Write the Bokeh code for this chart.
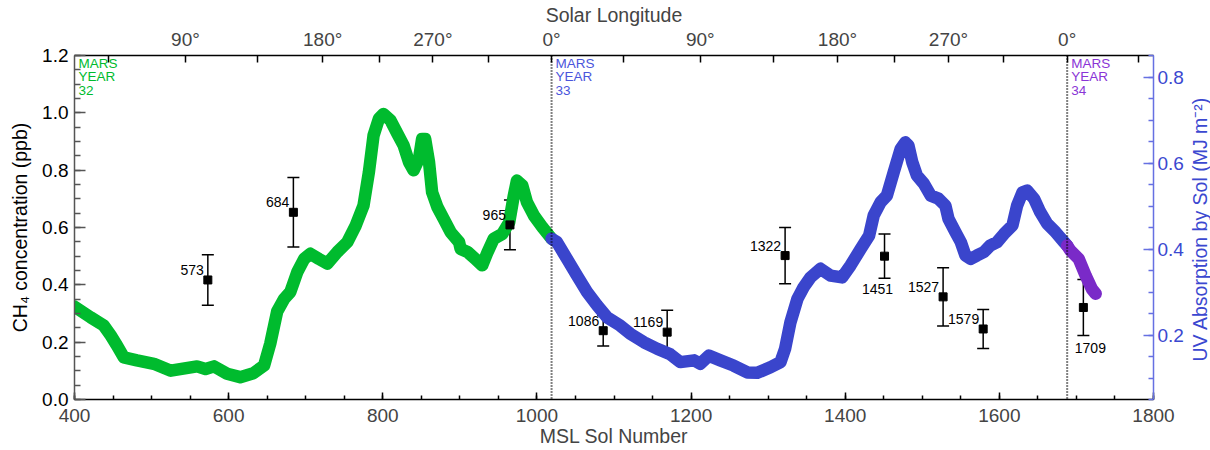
import math

from bokeh.core.properties import value
from bokeh.embed import file_html
from bokeh.layouts import row
from bokeh.models import (ColumnDataSource, FixedTicker, Label, LinearAxis,
                          PrintfTickFormatter, Range1d, SingleIntervalTicker,
                          Span, TeeHead, Whisker)
from bokeh.plotting import figure
from bokeh.resources import INLINE

# ---------------------------------------------------------------------------
# Data
# ---------------------------------------------------------------------------
# UV absorption by sol (MJ m^-2), Mars Year 32
my32_sol = [400, 421, 438, 447, 455, 464, 481, 503, 525, 541, 559, 570, 581,
            598, 615, 632, 646, 654, 663, 672, 680, 689, 698, 706, 717, 728,
            741, 754, 765, 775, 782, 788, 795, 801, 810, 819, 827, 834, 840,
            847, 851, 855, 860, 864, 871, 879, 888, 899, 901, 910, 920, 929,
            936, 944, 955, 964, 970, 974, 981, 987, 996, 1007, 1019]
my32_uv = [0.266, 0.241, 0.222, 0.199, 0.176, 0.148, 0.141, 0.133, 0.117,
           0.122, 0.127, 0.121, 0.127, 0.110, 0.102, 0.111, 0.129, 0.180,
           0.255, 0.284, 0.300, 0.346, 0.377, 0.389, 0.377, 0.366, 0.393,
           0.416, 0.455, 0.501, 0.579, 0.664, 0.703, 0.714, 0.699, 0.668,
           0.641, 0.602, 0.583, 0.610, 0.656, 0.656, 0.602, 0.532, 0.497,
           0.470, 0.439, 0.416, 0.400, 0.393, 0.377, 0.362, 0.393, 0.424,
           0.435, 0.462, 0.524, 0.559, 0.548, 0.509, 0.478, 0.451, 0.424]

# Mars Year 33
my33_sol = [1019, 1026, 1039, 1052, 1065, 1078, 1091, 1108, 1121, 1139, 1156,
            1173, 1186, 1204, 1212, 1223, 1238, 1255, 1273, 1286, 1303, 1316,
            1322, 1329, 1338, 1346, 1355, 1368, 1381, 1396, 1407, 1420, 1431,
            1437, 1446, 1454, 1463, 1472, 1478, 1482, 1487, 1493, 1502, 1511,
            1521, 1530, 1534, 1543, 1550, 1556, 1563, 1571, 1580, 1588, 1597,
            1606, 1617, 1623, 1630, 1636, 1645, 1653, 1662, 1673, 1684, 1688]
my33_uv = [0.424, 0.416, 0.377, 0.338, 0.300, 0.269, 0.241, 0.222, 0.203,
           0.183, 0.168, 0.155, 0.137, 0.141, 0.133, 0.152, 0.141, 0.129,
           0.113, 0.112, 0.125, 0.137, 0.168, 0.230, 0.284, 0.311, 0.334,
           0.354, 0.338, 0.334, 0.362, 0.400, 0.431, 0.478, 0.509, 0.524,
           0.579, 0.633, 0.648, 0.641, 0.602, 0.571, 0.552, 0.524, 0.517,
           0.501, 0.470, 0.439, 0.416, 0.385, 0.377, 0.385, 0.393, 0.408,
           0.416, 0.435, 0.455, 0.501, 0.532, 0.536, 0.517, 0.486, 0.459,
           0.439, 0.416, 0.408]

# Mars Year 34
my34_sol = [1688, 1692, 1703, 1712, 1720, 1725]
my34_uv = [0.408, 0.397, 0.377, 0.338, 0.307, 0.296]

# Curiosity TLS methane measurements (ppb) with 1-sigma uncertainty
ch4_sol = [573, 684, 965, 1086, 1169, 1322, 1451, 1527, 1579, 1709]
ch4_ppb = [0.417, 0.653, 0.609, 0.240, 0.235, 0.502, 0.500, 0.358, 0.246, 0.321]
ch4_err = [0.088, 0.121, 0.087, 0.053, 0.076, 0.098, 0.077, 0.102, 0.068, 0.098]

# Axis ticks
ch4_ticks = [0.0, 0.2, 0.4, 0.6, 0.8, 1.0, 1.2]
uv_ticks = [0.2, 0.4, 0.6, 0.8]

# Solar longitude ticks (sol of each Ls value)
ls_major_sol = [544, 722, 865, 1019, 1212, 1390, 1534, 1688]
ls_major_label = ["90°", "180°", "270°", "0°", "90°", "180°", "270°", "0°"]
ls_minor_sol = [444, 638, 796, 937, 1112, 1307, 1464, 1606, 1781]

# Start of each Mars year (Ls = 0) and the year tags
year_start_sol = [1019, 1688]
year_tag_sol = [400, 1019, 1688]
year_tag = ["32", "33", "34"]

# ---------------------------------------------------------------------------
# Styling
# ---------------------------------------------------------------------------
FONT = "Liberation Sans"
GREEN = "#00bb2e"
BLUE = "#3a45cc"
PURPLE = "#7a2ac8"
YEAR_COLORS = [GREEN, "#4a55dc", "#8a35d6"]
RIGHT_AXIS_LINE = "#6670e2"
RIGHT_AXIS_TEXT = "#3b48d0"

p = figure(width=1187, height=450, output_backend="svg", toolbar_location=None,
           x_range=Range1d(400, 1800), y_range=Range1d(0, 1.2),
           min_border_left=74, min_border_right=34,
           min_border_top=55, min_border_bottom=51)
p.outline_line_color = None
p.grid.visible = False
p.background_fill_color = "white"
p.border_fill_color = "white"
p.extra_y_ranges = {"uv": Range1d(0.05, 0.85)}


def style_axis(ax, color="black", major_in=7, minor_in=4, lh=1.0):
    ax.axis_line_color = color
    ax.axis_line_width = 1.5
    ax.major_tick_line_color = color
    ax.minor_tick_line_color = color
    ax.major_tick_line_width = 1.5
    ax.minor_tick_line_width = 1.5
    ax.major_tick_in = major_in
    ax.major_tick_out = 0
    ax.minor_tick_in = minor_in
    ax.minor_tick_out = 0
    ax.major_label_text_font = FONT
    ax.major_label_text_font_size = "19px"
    ax.major_label_text_line_height = lh
    ax.axis_label_text_font = FONT
    ax.axis_label_text_font_size = "19.5px"
    ax.axis_label_text_line_height = lh
    ax.axis_label_text_font_style = "normal"


def ticks_every(lo, hi, step):
    n = int(round((hi - lo) / step))
    return [round(lo + k * step, 4) for k in range(n + 1)]


# Bottom: sol number
bx = p.xaxis[0]
bx.ticker = SingleIntervalTicker(interval=200, num_minor_ticks=4)
bx.axis_label = "MSL Sol Number"
style_axis(bx)
bx.major_label_standoff = 9
bx.axis_label_standoff = 0

# Left: methane
ly = p.yaxis[0]
ly.ticker = FixedTicker(ticks=ch4_ticks, minor_ticks=ticks_every(0.0, 1.2, 0.05))
ly.formatter = PrintfTickFormatter(format="%.1f")
ly.axis_label = "CH₄ concentration (ppb)"
style_axis(ly, color="#555555", major_in=11, minor_in=6)
ly.major_label_text_color = "black"
ly.axis_label_text_color = "black"
ly.major_label_standoff = 6
ly.axis_label_standoff = 8

# Top: solar longitude
tx = LinearAxis(ticker=FixedTicker(ticks=ls_major_sol, minor_ticks=ls_minor_sol),
                major_label_overrides=dict(zip(ls_major_sol, ls_major_label)),
                axis_label="Solar Longitude")
style_axis(tx, major_in=7, minor_in=7)
tx.major_label_standoff = 6
tx.axis_label_standoff = 0
p.add_layout(tx, "above")

# Right: UV absorption scale
ry = LinearAxis(y_range_name="uv",
                ticker=FixedTicker(ticks=uv_ticks,
                                   minor_ticks=ticks_every(0.05, 0.85, 0.05)),
                formatter=PrintfTickFormatter(format="%.1f"))
style_axis(ry, color=RIGHT_AXIS_LINE, major_in=10, minor_in=5)
ry.major_label_text_color = RIGHT_AXIS_TEXT
ry.major_label_standoff = 4
p.add_layout(ry, "right")

# UV absorption curves, one per Mars year
for sols, uv, color in [(my32_sol, my32_uv, GREEN),
                        (my33_sol, my33_uv, BLUE),
                        (my34_sol, my34_uv, PURPLE)]:
    p.line(sols, uv, y_range_name="uv", line_color=color, line_width=12.5,
           line_join="round", line_cap="round")

# Ls = 0 boundaries
for s in year_start_sol:
    p.add_layout(Span(location=s, dimension="height", line_color="black",
                      line_width=2, line_dash="1 2"))

# Mars year tags
for s, tag, color in zip(year_tag_sol, year_tag, YEAR_COLORS):
    p.add_layout(Label(x=s, y=1.2, x_offset=4, y_offset=0,
                       text=f"MARS\nYEAR\n{tag}", text_baseline="top",
                       text_align="left", text_font=FONT,
                       text_font_size="13.5px", text_line_height=0.92,
                       text_color=color))

# Methane measurements with error bars
err_src = ColumnDataSource(dict(
    base=ch4_sol,
    lower=[v - e for v, e in zip(ch4_ppb, ch4_err)],
    upper=[v + e for v, e in zip(ch4_ppb, ch4_err)],
))
p.add_layout(Whisker(base="base", lower="lower", upper="upper", source=err_src,
                     dimension="height", line_color="black", line_width=1.5,
                     lower_head=TeeHead(size=12, line_width=1.5, line_color="black"),
                     upper_head=TeeHead(size=12, line_width=1.5, line_color="black")))
p.scatter(ch4_sol, ch4_ppb, marker="square", size=8, color="black")

# Sol labels: most sit up-left of the point, two sit below it
below = {1451: (-7, 33), 1709: (7, 41)}
left_idx = [i for i, s in enumerate(ch4_sol) if s not in below]
p.text(x=[ch4_sol[i] for i in left_idx], y=[ch4_ppb[i] for i in left_idx],
       text=[str(ch4_sol[i]) for i in left_idx], text_align="right",
       text_baseline="middle", x_offset=-4, y_offset=-10,
       text_font=value(FONT), text_font_size="14px", text_color="black")
for i, s in enumerate(ch4_sol):
    if s in below:
        dx, dy = below[s]
        p.text(x=[s], y=[ch4_ppb[i]], text=[str(s)], text_align="center",
               text_baseline="middle", x_offset=dx, y_offset=dy,
               text_font=value(FONT), text_font_size="14px", text_color="black")

# Narrow strip on the right carrying the UV axis title, reading upward
strip = figure(width=23, height=450, output_backend="svg", toolbar_location=None,
               x_range=Range1d(0, 23), y_range=Range1d(0, 450),
               x_axis_location=None, y_axis_location=None, min_border=0)
strip.outline_line_color = None
strip.grid.visible = False
strip.add_layout(Label(x=12, y=223, angle=math.pi / 2,
                       text="UV Absorption by Sol (MJ m⁻²)",
                       text_align="center", text_baseline="middle",
                       text_font=FONT, text_font_size="19.5px",
                       text_color=RIGHT_AXIS_TEXT))

open("out.html", "w").write(file_html(row(p, strip), INLINE))
